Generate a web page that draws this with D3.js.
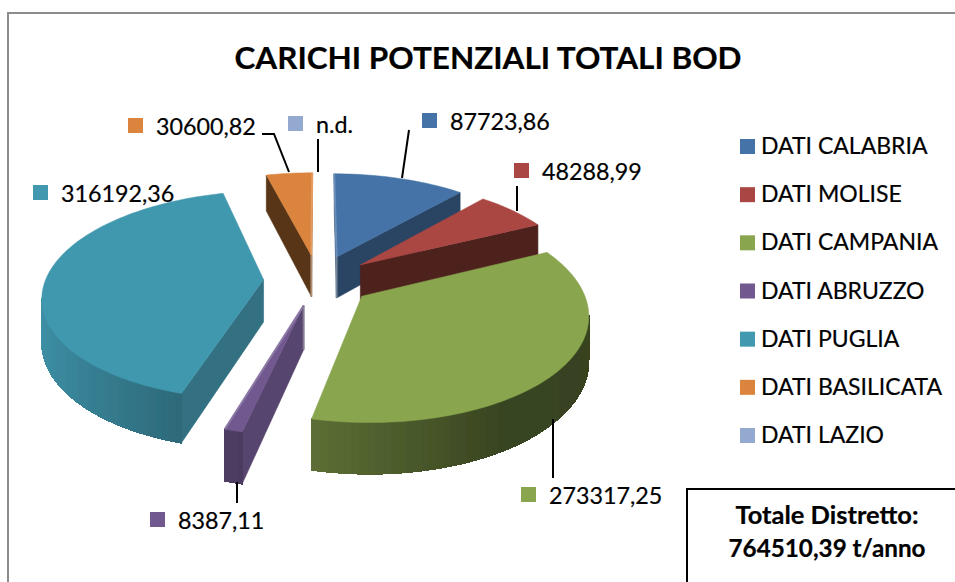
<!DOCTYPE html>
<html>
<head>
<meta charset="utf-8">
<script src="https://cdn.jsdelivr.net/npm/d3@7"></script>
<style>
  html, body { margin: 0; padding: 0; background: #fff; overflow: hidden; }
  text { font-family: Lato, "Open Sans", sans-serif; fill: #000; stroke: #000; stroke-width: 0.2; }
</style>
</head>
<body>
<svg id="chart"></svg>
<script>
var regions = ['DATI CALABRIA', 'DATI MOLISE', 'DATI CAMPANIA', 'DATI ABRUZZO', 'DATI PUGLIA', 'DATI BASILICATA', 'DATI LAZIO'];
var values = [87723.86, 48288.99, 273317.25, 8387.11, 316192.36, 30600.82, null];
var colors = ['#4573a7', '#aa4643', '#89a54e', '#71588f', '#4198af', '#db843d', '#93a9cf'];
var title = 'CARICHI POTENZIALI TOTALI BOD';

// where each data label sits, and its leader line
var labelPos = [
  {x: 422, y: 113, line: [[409, 130], [402, 178]]},
  {x: 514, y: 163, line: [[517, 186], [517, 211]]},
  {x: 521, y: 487, line: [[553, 419], [553, 478]]},
  {x: 150, y: 512, line: [[237, 482], [237, 503]]},
  {x: 33,  y: 185, line: null},
  {x: 128, y: 118, line: [[262, 134], [274, 134], [289, 172]]},
  {x: 288, y: 116, line: [[318, 139], [318, 172]]}
];
// how dark the two flat cut faces of each slice are
var cutShade = [0.6, 0.45, 0.65, 0.77, 0.74, 0.4, 1];
// which cut is seen nearly edge on and shows as a pale sliver (-1 start, 1 end)
var paleEdge = [-1, 0, 0, 1, 0, 1, 0];

var width = 955, height = 582;

// 3d pie projection, fitted by eye on the reference
var cx = 318, cy = 280, rx = 218, ry = 102, persp = 0.15, depth = 42.5, explode = 0.25;

function project(x, z, bottom) {
  var s = 1 / (1 + persp * z);
  return [cx + rx * x * s, cy - ry * z * s + (bottom ? depth * s : 0)];
}

var fmt = d3.formatLocale({decimal: ',', thousands: '', grouping: [3], currency: ['', '']}).format('.2f');

var pie = d3.pie().sort(null).value(function(d) { return d || 0; })
  .startAngle(0).endAngle(2 * Math.PI);
var slices = pie(values).map(function(d, i) {
  var mid = (d.startAngle + d.endAngle) / 2;
  d.i = i;
  d.mid = mid;
  d.ox = explode * Math.sin(mid);
  d.oz = explode * Math.cos(mid);
  return d;
}).filter(function(d) { return d.value > 0; });

function rim(d, a, bottom) {
  return project(d.ox + Math.sin(a), d.oz + Math.cos(a), bottom);
}
function apex(d, bottom) {
  return project(d.ox, d.oz, bottom);
}
function arcAngles(d) {
  var n = Math.max(2, Math.ceil((d.endAngle - d.startAngle) / 0.03));
  return d3.range(n + 1).map(function(k) {
    return d.startAngle + (d.endAngle - d.startAngle) * k / n;
  });
}

// side wall gets darker going to the right
var wallShade = d3.scaleLinear().domain([-1, -0.25, 0.5, 1]).range([0.95, 0.68, 0.42, 0.4]);
function shade(c, f) {
  var r = d3.rgb(c);
  return d3.rgb(r.r * f, r.g * f, r.b * f).formatHex();
}

var line = d3.line();

var svg = d3.select('#chart')
  .attr('width', width)
  .attr('height', height)
  .style('display', 'block');

svg.append('defs').append('filter').attr('id', 'soft')
  .append('feGaussianBlur').attr('stdDeviation', 0.5);

// frame, runs off the page on the right and bottom
svg.append('path')
  .attr('d', line([[8, height], [8, 13], [width, 13]]))
  .attr('fill', 'none').attr('stroke', '#8c8c8c').attr('stroke-width', 2);

svg.append('text')
  .attr('x', 488).attr('y', 69)
  .attr('text-anchor', 'middle')
  .attr('font-size', 31).attr('font-weight', 700)
  .attr('textLength', 507).attr('lengthAdjust', 'spacingAndGlyphs')
  .text(title);

var pieG = svg.append('g').attr('filter', 'url(#soft)');

slices.slice().sort(function(a, b) { return d3.descending(Math.cos(a.mid), Math.cos(b.mid)); })
  .forEach(function(d) {
    var g = pieG.append('g');
    var base = colors[d.i];
    var angles = arcAngles(d);
    var walls = [];

    // the two flat cuts, only the one facing the camera survives the area test
    var cutColor = shade(base, cutShade[d.i]);
    var a0 = d.startAngle, a1 = d.endAngle;
    walls.push({pts: [apex(d), rim(d, a0), rim(d, a0, true), apex(d, true)], fill: cutColor});
    walls.push({pts: [rim(d, a1), apex(d), apex(d, true), rim(d, a1, true)], fill: cutColor});

    // outer skin, in thin strips so the shade can change along it
    d3.pairs(angles).forEach(function(p) {
      walls.push({
        pts: [rim(d, p[0]), rim(d, p[1]), rim(d, p[1], true), rim(d, p[0], true)],
        fill: shade(base, wallShade(Math.sin((p[0] + p[1]) / 2))),
        strip: true
      });
    });

    walls.filter(function(w) { return d3.polygonArea(w.pts) > 0; }).forEach(function(w) {
      g.append('path')
        .attr('d', line(w.pts) + 'Z')
        .attr('fill', w.fill).attr('stroke', w.fill)
        .attr('stroke-width', w.strip ? 1.5 : 0.6)
        .attr('shape-rendering', w.strip ? 'crispEdges' : null);
    });

    var top = [apex(d)].concat(angles.map(function(a) { return rim(d, a); }));
    g.append('path')
      .attr('d', line(top) + 'Z')
      .attr('fill', base).attr('stroke', base).attr('stroke-width', 0.5);

    if (paleEdge[d.i]) {
      var a = paleEdge[d.i] < 0 ? a0 : a1;
      g.append('path')
        .attr('d', line([rim(d, a), apex(d)]))
        .attr('fill', 'none').attr('stroke-width', 2)
        .attr('stroke', d3.interpolateRgb(base, '#fff')(0.2));
      g.append('path')
        .attr('d', line([apex(d), apex(d, true)]))
        .attr('fill', 'none').attr('stroke-width', 2)
        .attr('stroke', d3.interpolateRgb(shade(base, 0.6), '#fff')(0.35));
    }
  });

// leader lines
svg.selectAll('path.leader')
  .data(labelPos.filter(function(d) { return d.line; }))
  .enter().append('path')
  .attr('class', 'leader')
  .attr('d', function(d) { return line(d.line); })
  .attr('fill', 'none').attr('stroke', '#000').attr('stroke-width', 2);

// data labels
var labels = svg.selectAll('g.label')
  .data(values)
  .enter().append('g')
  .attr('class', 'label')
  .attr('transform', function(d, i) { return 'translate(' + labelPos[i].x + ',' + labelPos[i].y + ')'; });
labels.append('rect')
  .attr('width', 15).attr('height', 15)
  .attr('fill', function(d, i) { return colors[i]; });
labels.append('text')
  .attr('x', 28).attr('y', 17)
  .attr('font-size', 23.3)
  .text(function(d) { return d === null ? 'n.d.' : fmt(d); });

// legend
var legendY = d3.scalePoint().domain(regions).range([146, 435]);
var legend = svg.selectAll('g.legend')
  .data(regions)
  .enter().append('g')
  .attr('class', 'legend')
  .attr('transform', function(d) { return 'translate(740,' + legendY(d) + ')'; });
legend.append('rect')
  .attr('y', -7).attr('width', 15).attr('height', 15)
  .attr('fill', function(d, i) { return colors[i]; });
legend.append('text')
  .attr('x', 21).attr('y', 8)
  .attr('font-size', 23)
  .text(function(d) { return d; });

// total box, also cut by the page edge
svg.append('path')
  .attr('d', line([[687, height], [687, 489], [width, 489]]))
  .attr('fill', 'none').attr('stroke', '#000').attr('stroke-width', 2);
svg.append('text')
  .attr('x', 827).attr('y', 524)
  .attr('text-anchor', 'middle').attr('font-size', 24).attr('font-weight', 700)
  .attr('textLength', 183).attr('lengthAdjust', 'spacingAndGlyphs')
  .text('Totale Distretto:');
svg.append('text')
  .attr('x', 827).attr('y', 557)
  .attr('text-anchor', 'middle').attr('font-size', 24).attr('font-weight', 700)
  .attr('textLength', 197).attr('lengthAdjust', 'spacingAndGlyphs')
  .text(fmt(d3.sum(values)) + ' t/anno');
</script>
</body>
</html>
